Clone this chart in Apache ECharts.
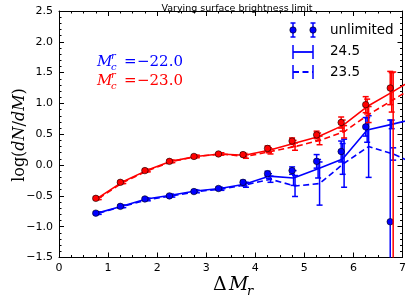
<!DOCTYPE html>
<html><head><meta charset="utf-8">
<script src="https://cdn.jsdelivr.net/npm/echarts@6/dist/echarts.min.js"></script>
<style>html,body{margin:0;padding:0;background:#fff}#c{width:409px;height:301px}</style>
</head><body><div id="c"></div>
<script>
// ---- data ----
const xTicks = [0,1,2,3,4,5,6,7];
const yTicks = [-1.5,-1.0,-0.5,0.0,0.5,1.0,1.5,2.0,2.5];
const xUnl  = [0.75,1.25,1.75,2.25,2.75,3.25,3.75,4.25,4.75,5.25,5.75,6.25,6.75];
const x245  = [0.78,1.28,1.78,2.28,2.78,3.28,3.78,4.28,4.78,5.28,5.78,6.28,6.78,7.28];
const x235  = [0.81,1.31,1.81,2.31,2.81,3.31,3.81,4.31,4.81,5.31,5.81,6.31,6.81,7.31];

const blueUnl      = [-0.78,-0.67,-0.55,-0.50,-0.43,-0.38,-0.28,-0.14,-0.09,0.06,0.22,0.62,-0.92];
const blueUnlErrLo = [0.02,0.02,0.02,0.02,0.02,0.02,0.03,0.04,0.06,0.11,0.17,0.15,1.65];
const blueUnlErrHi = [0.02,0.02,0.02,0.02,0.02,0.02,0.03,0.04,0.06,0.11,0.17,0.15,1.65];
const blue245      = [-0.78,-0.67,-0.55,-0.49,-0.42,-0.38,-0.31,-0.18,-0.21,-0.06,0.10,0.57,0.66,0.76];
const blue245ErrLo = [0.02,0.02,0.02,0.02,0.02,0.02,0.03,0.04,0.12,0.15,0.25,0.2,0.07,0.1];
const blue245ErrHi = [0.02,0.02,0.02,0.02,0.02,0.02,0.03,0.04,0.12,0.15,0.25,0.2,0.07,0.1];
const blue235      = [-0.78,-0.67,-0.56,-0.50,-0.43,-0.39,-0.32,-0.23,-0.34,-0.30,0.03,0.30,0.18,0.0];
const blue235ErrLo = [0.02,0.02,0.02,0.02,0.02,0.02,0.04,0.05,0.17,0.35,0.39,0.5,0.1,0.1];
const blue235ErrHi = [0.02,0.02,0.02,0.02,0.02,0.02,0.04,0.05,0.17,0.35,0.39,0.5,0.1,0.1];

const redUnl       = [-0.54,-0.28,-0.09,0.06,0.14,0.18,0.17,0.27,0.39,0.49,0.69,0.98,1.25];
const redUnlErrLo  = [0.02,0.02,0.02,0.02,0.02,0.02,0.03,0.04,0.05,0.06,0.09,0.13,0.27];
const redUnlErrHi  = [0.02,0.02,0.02,0.02,0.02,0.02,0.03,0.04,0.05,0.06,0.09,0.13,0.27];
const red245       = [-0.54,-0.28,-0.09,0.06,0.14,0.18,0.16,0.24,0.35,0.46,0.64,0.95,1.18,1.42];
const red245ErrLo  = [0.02,0.02,0.02,0.02,0.02,0.02,0.03,0.04,0.05,0.06,0.09,0.12,0.32,0.3];
const red245ErrHi  = [0.02,0.02,0.02,0.02,0.02,0.02,0.03,0.04,0.05,0.06,0.09,0.12,0.32,0.3];
const red235       = [-0.54,-0.28,-0.09,0.06,0.14,0.18,0.14,0.22,0.30,0.40,0.54,0.82,1.06,1.30];
const red235ErrLo  = [0.02,0.02,0.02,0.02,0.02,0.02,0.03,0.04,0.06,0.07,0.1,0.13,3.0,0.3];
const red235ErrHi  = [0.02,0.02,0.02,0.02,0.02,0.02,0.03,0.04,0.06,0.07,0.1,0.13,0.45,0.3];

const legendLabels = ['unlimited','24.5','23.5'];
const annBlue = '\u221222.0';
const annRed  = '\u221223.0';

// ---- chart ----
const BLUE = '#0000ff', RED = '#ff0000';
const YMIN = -1.5, YMAX = 2.5, XMIN = 0, XMAX = 7;
const chart = echarts.init(document.getElementById('c'), null, {renderer:'canvas'});

function errSeries(xs, ys, lo, hi, color, z) {
  return {
    type: 'custom', z: z, silent: true, clip: false,
    encode: {x: 0, y: 1},
    dimensions: ['x', 'y', 'lo', 'hi'],
    data: xs.map((x, i) => [x, ys[i], lo[i], hi[i]]),
    renderItem: function (params, api) {
      const x = api.value(0), y = api.value(1), l = api.value(2), h = api.value(3);
      if (x > XMAX || x < XMIN) return null;
      const b = y - l, t = y + h;
      const cb = Math.max(b, YMIN), ct = Math.min(t, YMAX);
      if (ct <= YMIN || cb >= YMAX) return null;
      const p1 = api.coord([x, cb]), p2 = api.coord([x, ct]);
      const st = {stroke: color, lineWidth: 1.5};
      const ch = [{type: 'line', shape: {x1: p1[0], y1: p1[1], x2: p2[0], y2: p2[1]}, style: st}];
      const cw = 3;
      if (b >= YMIN) ch.push({type: 'line', shape: {x1: p1[0]-cw, y1: p1[1], x2: p1[0]+cw, y2: p1[1]}, style: st});
      if (t <= YMAX) ch.push({type: 'line', shape: {x1: p2[0]-cw, y1: p2[1], x2: p2[0]+cw, y2: p2[1]}, style: st});
      return {type: 'group', children: ch};
    }
  };
}
function lineSeries(xs, ys, color, dashed, z) {
  return {
    type: 'line', z: z, silent: true, showSymbol: false, symbol: 'none', clip: true,
    data: xs.map((x, i) => [x, ys[i]]),
    lineStyle: {color: color, width: 1.6, type: dashed ? [6, 3.5] : 'solid'}
  };
}
function dotSeries(xs, ys, color, z) {
  return {
    type: 'scatter', z: z, silent: true, symbolSize: 6.5,
    data: xs.map((x, i) => [x, ys[i]]),
    itemStyle: {color: color, borderColor: '#000', borderWidth: 0.6, opacity: 1}
  };
}

const tickFont = {fontFamily: 'DejaVu Sans', fontSize: 11, color: '#000'};
const axisCommon = {
  axisLine: {show: true, onZero: false, lineStyle: {color: '#000', width: 1}},
  axisTick: {show: true, inside: true, length: 5, lineStyle: {color: '#000', width: 1}},
  splitLine: {show: false}, minorSplitLine: {show: false}
};

function annot(y, color, val) {
  return {
    type: 'group', children: [
      {type: 'text', x: 97, y: y, style: {text: 'M', font: 'italic 15px "DejaVu Serif"', fill: color, textVerticalAlign: 'middle'}},
      {type: 'text', x: 111, y: y - 6, style: {text: 'r', font: 'italic 10px "DejaVu Serif"', fill: color, textVerticalAlign: 'middle'}},
      {type: 'text', x: 111, y: y + 5, style: {text: 'c', font: 'italic 10px "DejaVu Serif"', fill: color, textVerticalAlign: 'middle'}},
      {type: 'text', x: 124, y: y, style: {text: '=', font: '15px "DejaVu Serif"', fill: color, textVerticalAlign: 'middle'}},
      {type: 'text', x: 137, y: y, style: {text: val, font: '15px "DejaVu Serif"', fill: color, textVerticalAlign: 'middle'}}
    ]
  };
}

const legendGraphics = [];
(function () {
  const xs = [293, 313];
  xs.forEach(x => {
    legendGraphics.push({type: 'line', shape: {x1: x, y1: 23, x2: x, y2: 37}, style: {stroke: BLUE, lineWidth: 1.5}});
    legendGraphics.push({type: 'line', shape: {x1: x-2.5, y1: 23, x2: x+2.5, y2: 23}, style: {stroke: BLUE, lineWidth: 1.5}});
    legendGraphics.push({type: 'line', shape: {x1: x-2.5, y1: 37, x2: x+2.5, y2: 37}, style: {stroke: BLUE, lineWidth: 1.5}});
    legendGraphics.push({type: 'circle', shape: {cx: x, cy: 30, r: 3.2}, style: {fill: BLUE, stroke: '#000', lineWidth: 0.6}});
  });
  [[52, false], [72, true]].forEach(([y, dashed]) => {
    xs.forEach(x => {
      legendGraphics.push({type: 'line', shape: {x1: x, y1: y-7, x2: x, y2: y+7}, style: {stroke: BLUE, lineWidth: 1.5}});
    });
    legendGraphics.push({type: 'line', shape: {x1: 293, y1: y, x2: 313, y2: y}, style: {stroke: BLUE, lineWidth: 1.8, lineDash: dashed ? [6, 3.5] : null}});
  });
  legendLabels.forEach((t, i) => {
    legendGraphics.push({type: 'text', x: 330, y: 30 + 21 * i, style: {text: t, font: '13.5px "DejaVu Sans"', fill: '#000', textVerticalAlign: 'middle'}});
  });
})();

const option = {
  animation: false,
  backgroundColor: '#fff',
  title: {text: 'Varying surface brightness limit', left: 232, top: -1, textAlign: 'center',
    textStyle: {fontFamily: 'DejaVu Sans', fontSize: 9.5, fontWeight: 'normal', color: '#000'}},
  grid: {left: 59, top: 11, right: 3.5, bottom: 43.5, containLabel: false, show: false},
  xAxis: [
    Object.assign({type: 'value', position: 'bottom', min: XMIN, max: XMAX, interval: 1,
      axisLabel: Object.assign({margin: 5, formatter: v => xTicks.includes(v) ? String(v) : ''}, tickFont)}, axisCommon,
      {minorTick: {show: true, splitNumber: 4, length: 2.5, lineStyle: {color: '#000'}}}),
    Object.assign({type: 'value', position: 'top', min: XMIN, max: XMAX, interval: 1, axisLabel: {show: false}}, axisCommon,
      {minorTick: {show: true, splitNumber: 4, length: 2.5, lineStyle: {color: '#000'}}})
  ],
  yAxis: [
    Object.assign({type: 'value', position: 'left', min: YMIN, max: YMAX, interval: 0.5,
      axisLabel: Object.assign({margin: 6, formatter: v => { const t = yTicks.find(k => Math.abs(k - v) < 1e-9); return t === undefined ? '' : t.toFixed(1).replace('-', '\u2212'); }}, tickFont)}, axisCommon,
      {minorTick: {show: true, splitNumber: 5, length: 2.5, lineStyle: {color: '#000'}}}),
    Object.assign({type: 'value', position: 'right', min: YMIN, max: YMAX, interval: 0.5, axisLabel: {show: false}}, axisCommon,
      {minorTick: {show: true, splitNumber: 5, length: 2.5, lineStyle: {color: '#000'}}})
  ],
  graphic: [
    annot(62, BLUE, annBlue),
    annot(81, RED, annRed),
    {type: 'group', children: legendGraphics},
    {type: 'text', x: 20, y: 135, rotation: Math.PI / 2,
      style: {text: '{r|log(}{i|dN}{r|/}{i|dM}{r|)}', textAlign: 'center', textVerticalAlign: 'middle',
        rich: {r: {fontFamily: 'DejaVu Serif', fontSize: 16, color: '#000'},
               i: {fontFamily: 'DejaVu Serif', fontStyle: 'italic', fontSize: 16, color: '#000'}}}},
    {type: 'group', children: [
      {type: 'text', x: 213, y: 285, style: {text: '\u0394', font: '19px "DejaVu Serif"', fill: '#000', textVerticalAlign: 'middle'}},
      {type: 'text', x: 229, y: 285, style: {text: 'M', font: 'italic 19px "DejaVu Serif"', fill: '#000', textVerticalAlign: 'middle'}},
      {type: 'text', x: 247, y: 292, style: {text: 'r', font: 'italic 13px "DejaVu Serif"', fill: '#000', textVerticalAlign: 'middle'}}
    ]}
  ],
  series: [
    errSeries(xUnl, blueUnl, blueUnlErrLo, blueUnlErrHi, BLUE, 3),
    errSeries(x245, blue245, blue245ErrLo, blue245ErrHi, BLUE, 3),
    errSeries(x235, blue235, blue235ErrLo, blue235ErrHi, BLUE, 3),
    lineSeries(x245, blue245, BLUE, false, 4),
    lineSeries(x235, blue235, BLUE, true, 4),
    dotSeries(xUnl, blueUnl, BLUE, 5),
    errSeries(xUnl, redUnl, redUnlErrLo, redUnlErrHi, RED, 6),
    errSeries(x245, red245, red245ErrLo, red245ErrHi, RED, 6),
    errSeries(x235, red235, red235ErrLo, red235ErrHi, RED, 6),
    lineSeries(x245, red245, RED, false, 7),
    lineSeries(x235, red235, RED, true, 7),
    dotSeries(xUnl, redUnl, RED, 8)
  ]
};
chart.setOption(option);
</script></body></html>
